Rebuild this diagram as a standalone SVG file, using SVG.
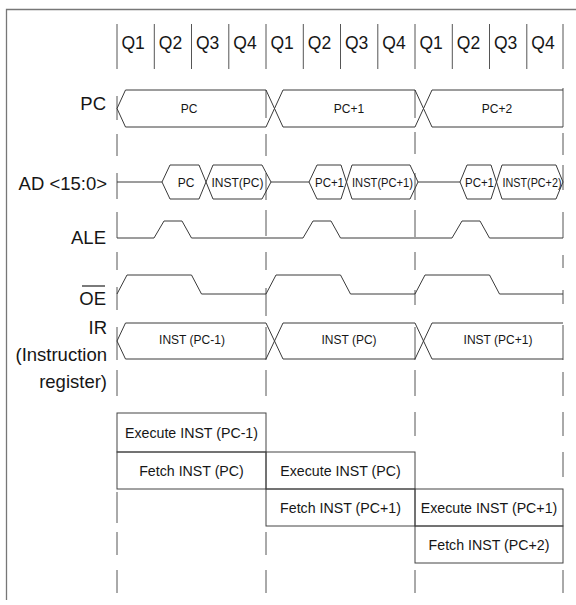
<svg xmlns="http://www.w3.org/2000/svg" width="576" height="605" viewBox="0 0 576 605">
<style>
text{font-family:"Liberation Sans",Arial,Helvetica,sans-serif;fill:#161616}
.lbl{font-size:18.5px;text-anchor:end}
.q{font-size:17.5px}
.sig{font-size:12px;text-anchor:middle}
.box{font-size:14.2px;text-anchor:middle}
.ln{fill:none;stroke:#3a3a3a;stroke-width:1}
.grid{fill:none;stroke:#555;stroke-width:1}
.frame{fill:none;stroke:#777;stroke-width:1.3}
.bx{fill:none;stroke:#444;stroke-width:1}
</style>
<path class="frame" d="M6.5,600 L6.5,9.5 L576,9.5"/>
<g id="grid">
<path class="grid" d="M117,24V69 M154.3,24V69 M191.5,24V69 M228.8,24V69 M266,24V69 M303.3,24V69 M340.5,24V69 M377.8,24V69 M415,24V69 M452.3,24V69 M489.5,24V69 M526.8,24V69 M563,24V69"/>
<path class="grid" d="M117,96V120 M117,134V156 M117,173V199 M117,212V238 M117,252V270 M117,287V310 M117,327V360 M117,370V396 M117,492V523 M117,532V555 M117,570V593"/>
<path class="grid" d="M266,90V118 M266,134V156 M266,173V200 M266,210V236 M266,252V270 M266,288V316 M266,327V360 M266,370V396 M266,532V555 M266,570V593"/>
<path class="grid" d="M415,90V118 M415,132V154 M415,173V200 M415,210V237 M415,252V270 M415,290V305 M415,327V360 M415,370V396 M415,412V436 M415,570V593"/>
<path class="grid" d="M563,88V127 M563,133V155 M563,165V190 M563,212V238 M563,255V268 M563,290V304 M563,325V360 M563,372V396 M563,412V436 M563,452V477 M563,570V593"/>
</g>
<g id="header">
<text class="q" x="121.5" y="49">Q1</text>
<text class="q" x="158.8" y="49">Q2</text>
<text class="q" x="196" y="49">Q3</text>
<text class="q" x="233.3" y="49">Q4</text>
<text class="q" x="270.5" y="49">Q1</text>
<text class="q" x="307.8" y="49">Q2</text>
<text class="q" x="345" y="49">Q3</text>
<text class="q" x="382.3" y="49">Q4</text>
<text class="q" x="419.5" y="49">Q1</text>
<text class="q" x="456.8" y="49">Q2</text>
<text class="q" x="494" y="49">Q3</text>
<text class="q" x="531.3" y="49">Q4</text>
</g>
<g id="labels">
<text class="lbl" x="106" y="109.5">PC</text>
<text class="lbl" x="107" y="190">AD &lt;15:0&gt;</text>
<text class="lbl" x="106" y="243.5">ALE</text>
<text class="lbl" x="106" y="305">OE</text>
<line x1="82" y1="286" x2="105" y2="286" stroke="#222" stroke-width="1.2"/>
<text class="lbl" x="107" y="334">IR</text>
<text class="lbl" x="107" y="361">(Instruction</text>
<text class="lbl" x="107" y="388">register)</text>
</g>
<g id="sig-pc">
<path class="ln" d="M266,90 L125.5,90 L117,108.5 L125.5,127 L266,127 M266,90 L283,127 M266,127 L283,90 M283,90 L415,90 L432,127 M283,127 L415,127 L432,90 M432,90 L563,90 M432,127 L563,127"/>
<text class="sig" x="189" y="113">PC</text>
<text class="sig" x="349" y="113">PC+1</text>
<text class="sig" x="497" y="113">PC+2</text>
</g>
<g id="sig-ad">
<path class="ln" d="M117,182 L162,182 L170,165 L199,165 L213,199 L262,199 L271,182 L309,182 L317,165 L341,165 L352,199 L410,199 L418,182 L460,182 L467,165 L491,165 L502,199 L556,199 L563,182 M162,182 L170,199 L199,199 L213,165 L262,165 L271,182 M309,182 L317,199 L341,199 L352,165 L410,165 L418,182 M460,182 L467,199 L491,199 L502,165 L556,165 L563,182"/>
<text class="sig" x="186" y="186.5">PC</text>
<text class="sig" x="237.5" y="186.5" textLength="52" lengthAdjust="spacingAndGlyphs">INST(PC)</text>
<text class="sig" x="329.5" y="186.5" textLength="29" lengthAdjust="spacingAndGlyphs">PC+1</text>
<text class="sig" x="382.5" y="186.5" textLength="61" lengthAdjust="spacingAndGlyphs">INST(PC+1)</text>
<text class="sig" x="479.5" y="186.5" textLength="29" lengthAdjust="spacingAndGlyphs">PC+1</text>
<text class="sig" x="532" y="186.5" textLength="59" lengthAdjust="spacingAndGlyphs">INST(PC+2)</text>
</g>
<g id="sig-ale">
<path class="ln" d="M117,238 L154,238 L164,221 L182,221 L191.5,238 L303,238 L313,221 L331,221 L340.5,238 L452,238 L462,221 L480,221 L489.5,238 L563,238"/>
</g>
<g id="sig-oe">
<path class="ln" d="M117,294 L127,275 L191.5,275 L201.5,294 L266,294 L276,275 L340.5,275 L350.5,294 L415,294 L425,275 L489.5,275 L499.5,294 L563,294"/>
</g>
<g id="sig-ir">
<path class="ln" d="M266,323 L125.5,323 L117,341 L125.5,359 L266,359 M266,323 L283,359 M266,359 L283,323 M283,323 L415,323 L432,359 M283,359 L415,359 L432,323 M432,323 L563,323 M432,359 L563,359"/>
<text class="sig" x="192" y="344">INST (PC-1)</text>
<text class="sig" x="349" y="344">INST (PC)</text>
<text class="sig" x="498" y="344">INST (PC+1)</text>
</g>
<g id="box-exec-pc-1">
<rect class="bx" x="117" y="413" width="149" height="39"/>
<text class="box" x="191.5" y="438">Execute INST (PC-1)</text>
</g>
<g id="box-fetch-pc">
<rect class="bx" x="117" y="452" width="149" height="37"/>
<text class="box" x="191.5" y="476">Fetch INST (PC)</text>
</g>
<g id="box-exec-pc">
<rect class="bx" x="266" y="452" width="149" height="37"/>
<text class="box" x="340.5" y="476">Execute INST (PC)</text>
</g>
<g id="box-fetch-pc1">
<rect class="bx" x="266" y="489" width="149" height="37"/>
<text class="box" x="340.5" y="513">Fetch INST (PC+1)</text>
</g>
<g id="box-exec-pc1">
<rect class="bx" x="415" y="489" width="148" height="37"/>
<text class="box" x="489" y="513">Execute INST (PC+1)</text>
</g>
<g id="box-fetch-pc2">
<rect class="bx" x="415" y="526" width="148" height="37"/>
<text class="box" x="489" y="550">Fetch INST (PC+2)</text>
</g>
</svg>
